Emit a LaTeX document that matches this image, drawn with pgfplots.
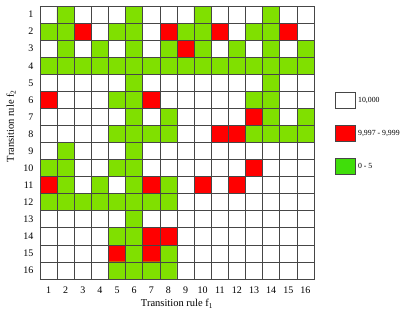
\documentclass[border=0pt]{standalone}
\usepackage{fontspec}
\setmainfont{Liberation Serif}
\usepackage{pgfplots}
\pgfplotsset{compat=1.18}
\definecolor{cgreen}{RGB}{128,224,0}
\definecolor{lgreen}{RGB}{64,222,10}
\definecolor{gridc}{RGB}{70,70,70}
\begin{document}
\begin{tikzpicture}
\useasboundingbox (-40pt,-37pt) rectangle (369pt,279pt);
\begin{axis}[
  at={(0,0)}, anchor=south west,
  scale only axis, width=274pt, height=273pt,
  xmin=0.5, xmax=16.5, ymin=0.5, ymax=16.5, y dir=reverse,
  xtick={1,...,16}, ytick={1,...,16},
  minor xtick={0.5,1.5,...,16.5}, minor ytick={0.5,1.5,...,16.5},
  major tick length=0pt, minor tick length=0pt,
  grid=minor, minor grid style={gridc, line width=0.75pt},
  axis line style={gridc, line width=0.8pt},
  axis on top,
  /pgf/number format/assume math mode=true,
  tick label style={font=\fontsize{10}{12}\selectfont},
  xticklabel style={yshift=-4pt},
  yticklabel style={xshift=-3pt},
  colormap={cells}{rgb255(0)=(255,255,255) rgb255(1)=(255,0,0) rgb255(2)=(128,224,0)},
  point meta min=0, point meta max=2,
  legend cell align=left,
  legend style={at={(1.077,0.685)}, anchor=north west, draw=none, fill=none,
    inner sep=0pt, row sep=16pt, font=\fontsize{7.8}{9}\selectfont,
    nodes={inner sep=2pt}},
  legend image code/.code={\draw[#1, draw=gray!55!black, line width=0.8pt] (0pt,-8pt) rectangle (20pt,8pt);},
]
\addplot[matrix plot*, point meta=explicit, mesh/cols=16, forget plot] coordinates {
(1,1)[0] (2,1)[2] (3,1)[0] (4,1)[0] (5,1)[0] (6,1)[2] (7,1)[0] (8,1)[0] (9,1)[0] (10,1)[2] (11,1)[0] (12,1)[0] (13,1)[0] (14,1)[2] (15,1)[0] (16,1)[0]

(1,2)[2] (2,2)[2] (3,2)[1] (4,2)[0] (5,2)[2] (6,2)[2] (7,2)[0] (8,2)[1] (9,2)[2] (10,2)[2] (11,2)[1] (12,2)[0] (13,2)[2] (14,2)[2] (15,2)[1] (16,2)[0]

(1,3)[0] (2,3)[2] (3,3)[0] (4,3)[2] (5,3)[0] (6,3)[2] (7,3)[0] (8,3)[2] (9,3)[1] (10,3)[2] (11,3)[0] (12,3)[2] (13,3)[0] (14,3)[2] (15,3)[0] (16,3)[2]

(1,4)[2] (2,4)[2] (3,4)[2] (4,4)[2] (5,4)[2] (6,4)[2] (7,4)[2] (8,4)[2] (9,4)[2] (10,4)[2] (11,4)[2] (12,4)[2] (13,4)[2] (14,4)[2] (15,4)[2] (16,4)[2]

(1,5)[0] (2,5)[0] (3,5)[0] (4,5)[0] (5,5)[0] (6,5)[2] (7,5)[0] (8,5)[0] (9,5)[0] (10,5)[0] (11,5)[0] (12,5)[0] (13,5)[0] (14,5)[2] (15,5)[0] (16,5)[0]

(1,6)[1] (2,6)[0] (3,6)[0] (4,6)[0] (5,6)[2] (6,6)[2] (7,6)[1] (8,6)[0] (9,6)[0] (10,6)[0] (11,6)[0] (12,6)[0] (13,6)[2] (14,6)[2] (15,6)[0] (16,6)[0]

(1,7)[0] (2,7)[0] (3,7)[0] (4,7)[0] (5,7)[0] (6,7)[2] (7,7)[0] (8,7)[2] (9,7)[0] (10,7)[0] (11,7)[0] (12,7)[0] (13,7)[1] (14,7)[2] (15,7)[0] (16,7)[2]

(1,8)[0] (2,8)[0] (3,8)[0] (4,8)[0] (5,8)[2] (6,8)[2] (7,8)[2] (8,8)[2] (9,8)[0] (10,8)[0] (11,8)[1] (12,8)[1] (13,8)[2] (14,8)[2] (15,8)[2] (16,8)[2]

(1,9)[0] (2,9)[2] (3,9)[0] (4,9)[0] (5,9)[0] (6,9)[2] (7,9)[0] (8,9)[0] (9,9)[0] (10,9)[0] (11,9)[0] (12,9)[0] (13,9)[0] (14,9)[0] (15,9)[0] (16,9)[0]

(1,10)[2] (2,10)[2] (3,10)[0] (4,10)[0] (5,10)[2] (6,10)[2] (7,10)[0] (8,10)[0] (9,10)[0] (10,10)[0] (11,10)[0] (12,10)[0] (13,10)[1] (14,10)[0] (15,10)[0] (16,10)[0]

(1,11)[1] (2,11)[2] (3,11)[0] (4,11)[2] (5,11)[0] (6,11)[2] (7,11)[1] (8,11)[2] (9,11)[0] (10,11)[1] (11,11)[0] (12,11)[1] (13,11)[0] (14,11)[0] (15,11)[0] (16,11)[0]

(1,12)[2] (2,12)[2] (3,12)[2] (4,12)[2] (5,12)[2] (6,12)[2] (7,12)[2] (8,12)[2] (9,12)[0] (10,12)[0] (11,12)[0] (12,12)[0] (13,12)[0] (14,12)[0] (15,12)[0] (16,12)[0]

(1,13)[0] (2,13)[0] (3,13)[0] (4,13)[0] (5,13)[0] (6,13)[2] (7,13)[0] (8,13)[0] (9,13)[0] (10,13)[0] (11,13)[0] (12,13)[0] (13,13)[0] (14,13)[0] (15,13)[0] (16,13)[0]

(1,14)[0] (2,14)[0] (3,14)[0] (4,14)[0] (5,14)[2] (6,14)[2] (7,14)[1] (8,14)[1] (9,14)[0] (10,14)[0] (11,14)[0] (12,14)[0] (13,14)[0] (14,14)[0] (15,14)[0] (16,14)[0]

(1,15)[0] (2,15)[0] (3,15)[0] (4,15)[0] (5,15)[1] (6,15)[2] (7,15)[1] (8,15)[2] (9,15)[0] (10,15)[0] (11,15)[0] (12,15)[0] (13,15)[0] (14,15)[0] (15,15)[0] (16,15)[0]

(1,16)[0] (2,16)[0] (3,16)[0] (4,16)[0] (5,16)[2] (6,16)[2] (7,16)[2] (8,16)[2] (9,16)[0] (10,16)[0] (11,16)[0] (12,16)[0] (13,16)[0] (14,16)[0] (15,16)[0] (16,16)[0]
};
\addlegendimage{fill=white}
\addlegendentry{10,000}
\addlegendimage{fill=red}
\addlegendentry{9,997 - 9,999}
\addlegendimage{fill=lgreen}
\addlegendentry{0 - 5}
\end{axis}
\node[font=\fontsize{10.5}{12}\selectfont] at (137pt,-25pt) {Transition rule f\textsubscript{1}};
\node[rotate=90, font=\fontsize{10.5}{12}\selectfont] at (-29pt,153pt) {Transition rule f\textsubscript{2}};
\end{tikzpicture}
\end{document}
